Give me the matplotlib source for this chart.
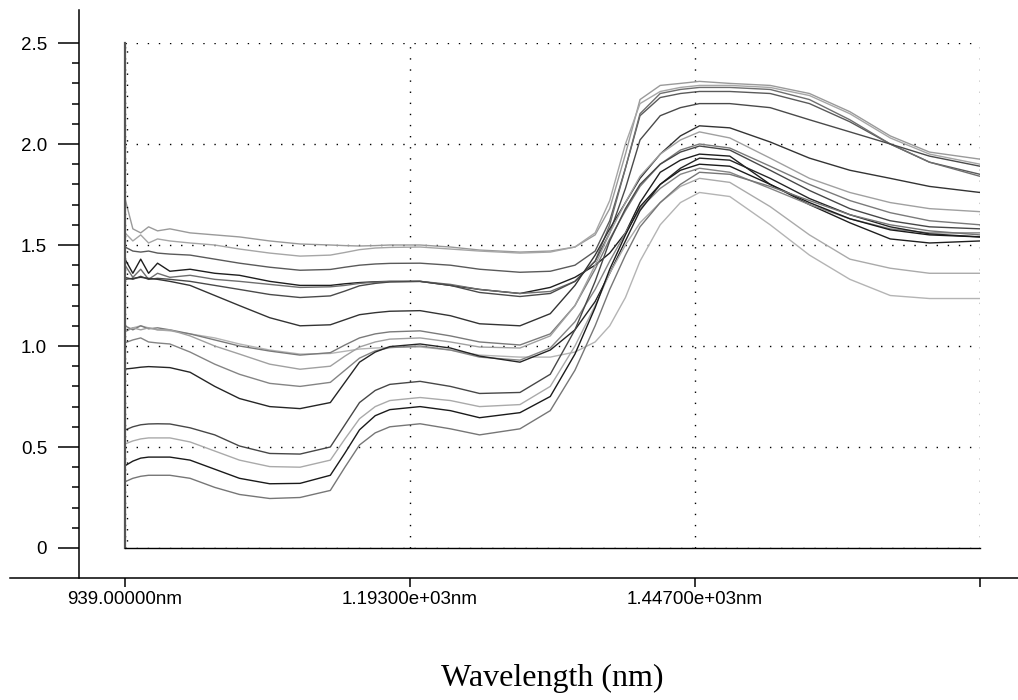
#!/usr/bin/env python3
"""NIR spectra overlay - absorbance vs wavelength."""

import matplotlib
matplotlib.use('Agg')
import matplotlib.pyplot as plt
from matplotlib.ticker import FixedLocator
from matplotlib.transforms import ScaledTranslation
import numpy as np

# Wavelength grid (nm) at which the spectra were read
wavelengths = [939, 946, 953, 960, 968, 979, 997, 1019, 1041, 1068, 1095,
               1122, 1135, 1148, 1162, 1175, 1202, 1229, 1255, 1291,
               1318, 1340, 1358, 1371, 1385, 1398, 1416, 1434, 1451,
               1478, 1514, 1549, 1585, 1621, 1656, 1701]

# Spectra (absorbance), one list per sample
spec_01 = [1.73, 1.58, 1.56, 1.59, 1.57, 1.58, 1.56, 1.55, 1.54, 1.52, 1.505,
           1.50, 1.497, 1.495, 1.497, 1.50, 1.50, 1.49, 1.475, 1.465,
           1.47, 1.49, 1.55, 1.68, 1.95, 2.22, 2.29, 2.30, 2.31,
           2.30, 2.29, 2.25, 2.16, 2.04, 1.96, 1.925]
spec_02 = [1.56, 1.52, 1.55, 1.51, 1.53, 1.52, 1.51, 1.50, 1.48, 1.46, 1.445,
           1.45, 1.463, 1.477, 1.485, 1.488, 1.49, 1.48, 1.47, 1.46,
           1.465, 1.49, 1.56, 1.72, 2.00, 2.20, 2.26, 2.28, 2.29,
           2.29, 2.28, 2.24, 2.15, 2.03, 1.95, 1.90]
spec_03 = [1.49, 1.47, 1.465, 1.47, 1.46, 1.455, 1.45, 1.43, 1.41, 1.39, 1.375,
           1.379, 1.39, 1.40, 1.406, 1.409, 1.41, 1.40, 1.38, 1.365,
           1.37, 1.40, 1.47, 1.62, 1.88, 2.14, 2.23, 2.25, 2.26,
           2.26, 2.25, 2.20, 2.11, 2.00, 1.91, 1.85]
spec_04 = [1.43, 1.36, 1.43, 1.36, 1.41, 1.37, 1.38, 1.36, 1.35, 1.32, 1.30,
           1.30, 1.308, 1.314, 1.318, 1.32, 1.32, 1.30, 1.28, 1.26,
           1.29, 1.34, 1.40, 1.46, 1.56, 1.71, 1.86, 1.92, 1.95,
           1.94, 1.80, 1.70, 1.61, 1.53, 1.51, 1.52]
spec_05 = [1.40, 1.34, 1.38, 1.33, 1.36, 1.34, 1.35, 1.33, 1.32, 1.305, 1.29,
           1.293, 1.30, 1.31, 1.316, 1.319, 1.32, 1.305, 1.28, 1.26,
           1.27, 1.32, 1.42, 1.60, 1.88, 2.15, 2.25, 2.27, 2.28,
           2.28, 2.27, 2.22, 2.12, 2.00, 1.91, 1.84]
spec_06 = [1.34, 1.33, 1.345, 1.33, 1.335, 1.33, 1.32, 1.30, 1.28, 1.255, 1.24,
           1.248, 1.272, 1.298, 1.31, 1.317, 1.32, 1.30, 1.265, 1.245,
           1.26, 1.32, 1.42, 1.56, 1.78, 2.02, 2.14, 2.18, 2.20,
           2.20, 2.18, 2.12, 2.06, 2.00, 1.94, 1.89]
spec_07 = [1.33, 1.335, 1.34, 1.335, 1.33, 1.32, 1.30, 1.25, 1.20, 1.14, 1.10,
           1.105, 1.13, 1.155, 1.165, 1.172, 1.175, 1.15, 1.11, 1.10,
           1.16, 1.30, 1.45, 1.58, 1.71, 1.83, 1.95, 2.04, 2.09,
           2.08, 2.01, 1.93, 1.87, 1.83, 1.79, 1.76]
spec_08 = [1.08, 1.09, 1.10, 1.09, 1.08, 1.075, 1.06, 1.04, 1.01, 0.98, 0.96,
           0.963, 0.974, 0.985, 0.99, 0.993, 0.995, 0.98, 0.955, 0.945,
           0.945, 0.97, 1.02, 1.10, 1.24, 1.42, 1.60, 1.71, 1.76,
           1.74, 1.60, 1.45, 1.33, 1.25, 1.235, 1.235]
spec_09 = [1.10, 1.08, 1.10, 1.085, 1.09, 1.08, 1.06, 1.03, 1.00, 0.975, 0.955,
           0.967, 1.005, 1.04, 1.06, 1.07, 1.075, 1.05, 1.02, 1.005,
           1.06, 1.20, 1.38, 1.53, 1.67, 1.79, 1.90, 1.97, 2.00,
           1.98, 1.89, 1.80, 1.72, 1.66, 1.62, 1.60]
spec_10 = [1.07, 1.09, 1.08, 1.09, 1.08, 1.08, 1.05, 1.00, 0.96, 0.91, 0.885,
           0.90, 0.95, 0.995, 1.02, 1.034, 1.04, 1.02, 0.995, 0.99,
           1.05, 1.20, 1.40, 1.56, 1.71, 1.84, 1.95, 2.02, 2.06,
           2.03, 1.93, 1.83, 1.76, 1.71, 1.68, 1.665]
spec_11 = [1.016, 1.03, 1.04, 1.02, 1.015, 1.01, 0.97, 0.91, 0.86, 0.815, 0.80,
           0.82, 0.88, 0.94, 0.976, 0.992, 1.00, 0.98, 0.945, 0.93,
           0.99, 1.12, 1.28, 1.42, 1.56, 1.68, 1.78, 1.85, 1.88,
           1.86, 1.78, 1.70, 1.63, 1.58, 1.56, 1.56]
spec_12 = [0.886, 0.89, 0.895, 0.898, 0.896, 0.893, 0.87, 0.80, 0.74, 0.70, 0.69,
           0.72, 0.82, 0.92, 0.97, 0.997, 1.01, 0.99, 0.95, 0.92,
           0.98, 1.08, 1.22, 1.36, 1.52, 1.67, 1.80, 1.88, 1.93,
           1.92, 1.83, 1.73, 1.65, 1.59, 1.555, 1.54]
spec_13 = [0.584, 0.60, 0.61, 0.614, 0.615, 0.614, 0.595, 0.56, 0.505, 0.468, 0.465,
           0.50, 0.61, 0.72, 0.78, 0.81, 0.825, 0.80, 0.765, 0.77,
           0.86, 1.08, 1.32, 1.52, 1.68, 1.80, 1.90, 1.96, 1.99,
           1.97, 1.87, 1.77, 1.68, 1.62, 1.59, 1.58]
spec_14 = [0.515, 0.53, 0.54, 0.545, 0.545, 0.545, 0.525, 0.48, 0.435, 0.403, 0.40,
           0.435, 0.54, 0.64, 0.70, 0.73, 0.745, 0.73, 0.70, 0.71,
           0.80, 1.00, 1.20, 1.36, 1.50, 1.61, 1.71, 1.79, 1.83,
           1.81, 1.69, 1.55, 1.43, 1.385, 1.36, 1.36]
spec_15 = [0.407, 0.43, 0.445, 0.45, 0.45, 0.45, 0.435, 0.39, 0.345, 0.318, 0.32,
           0.36, 0.47, 0.585, 0.655, 0.685, 0.70, 0.68, 0.645, 0.67,
           0.75, 0.96, 1.19, 1.38, 1.55, 1.69, 1.80, 1.87, 1.90,
           1.89, 1.80, 1.71, 1.63, 1.575, 1.55, 1.54]
spec_16 = [0.328, 0.345, 0.355, 0.36, 0.36, 0.36, 0.345, 0.30, 0.265, 0.245, 0.25,
           0.285, 0.40, 0.51, 0.57, 0.60, 0.615, 0.59, 0.56, 0.59,
           0.68, 0.88, 1.10, 1.28, 1.45, 1.59, 1.71, 1.80, 1.86,
           1.85, 1.79, 1.72, 1.65, 1.60, 1.57, 1.55]

spectra = [spec_01, spec_02, spec_03, spec_04, spec_05, spec_06, spec_07, spec_08,
           spec_09, spec_10, spec_11, spec_12, spec_13, spec_14, spec_15, spec_16]

# Tick values / labels
x_ticks = [939, 1193, 1447, 1701]
x_tick_labels = ['939.00000nm', '1.19300e+03nm', '1.44700e+03nm', '']
y_ticks = [0, 0.5, 1.0, 1.5, 2.0, 2.5]
y_tick_labels = ['0', '0.5', '1.0', '1.5', '2.0', '2.5']

# Grey levels for the traces
line_colors = ['#9a9a9a', '#a6a6a6', '#5a5a5a', '#1e1e1e', '#6e6e6e', '#4a4a4a',
               '#333333', '#b4b4b4', '#7a7a7a', '#a0a0a0', '#848484', '#252525',
               '#474747', '#aaaaaa', '#1a1a1a', '#767676']


def make_chart():
    fig = plt.figure(figsize=(10.18, 7.0), dpi=100)
    W, H = 1018.0, 700.0

    # pixel layout of the inner plot frame
    px_left, px_right, px_top, px_bottom = 125, 980, 43, 548
    ax = fig.add_axes([px_left / W, 1 - px_bottom / H,
                       (px_right - px_left) / W, (px_bottom - px_top) / H])
    x_min, x_max = 939, 1701
    y_min, y_max = 0.0, 2.5
    ax.set_xlim(x_min, x_max)
    ax.set_ylim(y_min, y_max)

    # outer axis frame (the one carrying the ticks)
    out_left, out_right, out_top, out_bottom = 10, 1018, 10, 578
    ax2 = fig.add_axes([out_left / W, 1 - out_bottom / H,
                        (out_right - out_left) / W, (out_bottom - out_top) / H])
    nm_per_px = (x_max - x_min) / (px_right - px_left)
    val_per_px = (y_max - y_min) / (px_bottom - px_top)
    ax2.set_xlim(x_min - (px_left - out_left) * nm_per_px,
                 x_max + (out_right - px_right) * nm_per_px)
    ax2.set_ylim(y_min - (out_bottom - px_bottom) * val_per_px,
                 y_max + (px_top - out_top) * val_per_px)
    ax2.patch.set_visible(False)
    ax2.set_zorder(-1)

    # traces
    for spec, color in zip(spectra, line_colors):
        ax.plot(wavelengths, spec, color=color, linewidth=1.0)

    # inner frame: grey left edge, black bottom edge, dotted grid
    for side in ['top', 'right']:
        ax.spines[side].set_visible(False)
    ax.spines['left'].set_color('#555555')
    ax.spines['left'].set_linewidth(1.6)
    ax.spines['bottom'].set_color('black')
    ax.spines['bottom'].set_linewidth(1.0)
    ax.set_xticks(x_ticks)
    ax.set_yticks(y_ticks)
    ax.tick_params(length=0, labelleft=False, labelbottom=False)
    ax.grid(True, color='black', linewidth=1.0, linestyle=(0, (1, 7)))
    ax.set_axisbelow(True)

    # dotted line of the first x tick shows just right of the grey edge
    shifted = ax.get_xaxis_transform() + ScaledTranslation(2 / 100, 0, fig.dpi_scale_trans)
    ax.plot([x_ticks[0], x_ticks[0]], [0, 1], transform=shifted, color='black',
            linewidth=1.0, linestyle=(3, (1, 7)), clip_on=False)

    # outer axes with the labelled ticks
    ax2.spines['top'].set_visible(False)
    ax2.spines['right'].set_visible(False)
    ax2.spines['left'].set_position(('data', x_min - (px_left - 79) * nm_per_px))
    ax2.spines['left'].set_linewidth(1.1)
    ax2.spines['bottom'].set_linewidth(1.1)
    ax2.set_xticks(x_ticks)
    ax2.set_xticklabels(x_tick_labels, fontfamily='Liberation Sans', fontsize=13.5)
    ax2.set_yticks(y_ticks)
    ax2.set_yticklabels(y_tick_labels, fontfamily='Liberation Sans', fontsize=13.5)
    minor = [v for v in np.arange(0.1, 2.45, 0.1) if abs(v * 2 - round(v * 2)) > 1e-6]
    ax2.yaxis.set_minor_locator(FixedLocator(minor))
    ax2.tick_params(axis='y', which='major', length=15, width=1.1, pad=8, direction='out')
    ax2.tick_params(axis='y', which='minor', length=5, width=1.1, direction='out')
    ax2.tick_params(axis='x', which='major', length=6.5, width=1.1, pad=3, direction='out')

    # axis title
    fig.text((px_left + px_right) / 2 / W, 1 - 686 / H, 'Wavelength (nm)',
             ha='center', va='baseline', fontfamily='Liberation Serif', fontsize=23)

    return fig


if __name__ == "__main__":
    fig = make_chart()
    fig.savefig('out.png', dpi=100)
    plt.close('all')
